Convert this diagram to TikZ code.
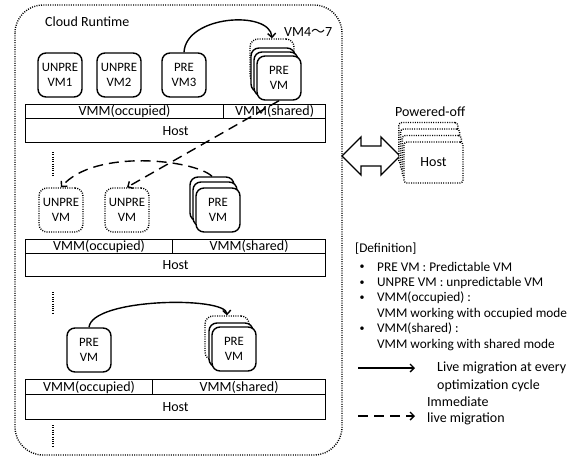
\documentclass[tikz,border=0pt]{standalone}
\usepackage{fontspec}
\setmainfont{Carlito}
\newfontfamily\cjk{Noto Sans CJK JP}
\usetikzlibrary{arrows.meta}

\tikzset{
  vm/.style={draw, line width=1.4pt, rounded corners=8pt, fill=white, minimum width=44pt, minimum height=44pt, inner sep=0pt, align=center, font=\fontsize{12.8}{15}\selectfont},
  dots/.style={line width=1.4pt, dash pattern=on 1pt off 1.3pt},
  vmghost/.style={vm, dots},
  bar/.style={draw, line width=1.2pt, inner sep=0pt, anchor=north west, font=\fontsize{14}{16}\selectfont},
  pwr/.style={draw, dots, fill=white, minimum width=59pt, minimum height=41pt, rounded corners=3pt, inner sep=0pt, font=\fontsize{14}{16}\selectfont},
  mig/.style={line width=1.4pt, -{Straight Barb[length=4pt,width=8pt]}},
  imm/.style={mig, dash pattern=on 10pt off 6pt},
  txt/.style={anchor=west, inner sep=0pt, font=\fontsize{14}{16}\selectfont},
  deftxt/.style={anchor=west, inner sep=0pt, font=\fontsize{13.3}{16}\selectfont},
  bul/.style={inner sep=0pt, font=\fontsize{10}{12}\selectfont},
}

\begin{document}
\begin{tikzpicture}[x=1pt,y=-1pt]
\useasboundingbox (0,0) rectangle (574,464);

% Cloud runtime frame
\draw[dots, rounded corners=28pt] (15,5) rectangle (342,455);
\node[txt] (cloud) at (45,22) {Cloud Runtime};

%%%%%%%%%%%% First host %%%%%%%%%%%%%%%%%%%
\node[vm] (vm1) at (60,75) {UNPRE\\VM1};
\node[vm] (vm2) at (119,75) {UNPRE\\VM2};
\node[vm] (vm3) at (184,75) {PRE\\VM3};

% VM4~7 stack
\node[vmghost] (ghost1) at (272,61) {};
\node[vm] (s1c) at (273,70) {};
\node[vm] (s1b) at (276,74) {};
\node[vm] (s1a) at (279,78) {PRE\\VM};
\node[txt] (vmlabel) at (284,32) {VM4{\cjk 〜}7};

\node[bar, minimum width=198pt, minimum height=14pt] (vo1) at (25,104) {VMM(occupied)};
\node[bar, minimum width=102pt, minimum height=14pt] (vs1) at (223,104) {VMM(shared)};
\node[bar, minimum width=300pt, minimum height=24pt] (h1) at (25,118) {Host};

\draw[mig] (vm3.north) .. controls (186,15) and (270,10) .. (ghost1.north);

\draw[dots] (53,152) -- (53,176);

%%%%%%%%%%%% Second host %%%%%%%%%%%%%%%%%%%
\node[vmghost] (u1) at (61,210) {UNPRE\\VM};
\node[vmghost] (u2) at (127,210) {UNPRE\\VM};

\node[vm] (s2c) at (212,199) {};
\node[vm] (s2b) at (215,204) {};
\node[vm] (s2a) at (218,210) {PRE\\VM};

\node[bar, minimum width=147pt, minimum height=14pt] (vo2) at (25,239) {VMM(occupied)};
\node[bar, minimum width=153pt, minimum height=14pt] (vs2) at (172,239) {VMM(shared)};
\node[bar, minimum width=300pt, minimum height=23pt] (h2) at (25,253) {Host};

\draw[imm] (s1a.south) -- (u2.north);
\draw[imm] (s2c.north) .. controls (195,160) and (95,148) .. (u1.north);

\draw[dots] (53,292) -- (53,313);

%%%%%%%%%%%% Third host %%%%%%%%%%%%%%%%%%%
\node[vm] (p1) at (89,350) {PRE\\VM};

\node[vmghost] (ghost3) at (227,338) {};
\node[vm] (s3b) at (231,345) {};
\node[vm] (s3a) at (234,349) {PRE\\VM};

\node[bar, minimum width=127pt, minimum height=15pt] (vo3) at (25,379) {VMM(occupied)};
\node[bar, minimum width=173pt, minimum height=15pt] (vs3) at (152,379) {VMM(shared)};
\node[bar, minimum width=300pt, minimum height=25pt] (h3) at (25,394) {Host};

\draw[mig] (p1.north) .. controls (92,298) and (226,296) .. (ghost3.north);

\draw[dots] (53,425) -- (53,447);

%%%%%%%%%%%% Powered-off hosts %%%%%%%%%%%%%%%%%%%
\draw[line width=1.3pt, line join=miter] (342,156) -- (361,137) -- (361,146) -- (381,146) -- (381,137) -- (400,156) -- (381,175) -- (381,166) -- (361,166) -- (361,175) -- cycle;

\node[txt] (offlabel) at (395,112) {Powered-off};
\node[pwr] (off3) at (428.4,143) {};
\node[pwr] (off2) at (430.1,149.5) {};
\node[pwr] (off1) at (431.8,156) {};
\node[pwr] (off) at (433.5,162.5) {Host};

%%%%%%%%%%%% Definition %%%%%%%%%%%%%%%%%%%
\node[deftxt] (def) at (355,249) {[Definition]};
\node[bul] (b1) at (362,267) {\textbullet};
\node[deftxt] (d1) at (377,267) {PRE VM : Predictable VM};
\node[bul] (b2) at (362,283) {\textbullet};
\node[deftxt] (d2) at (377,283) {UNPRE VM : unpredictable VM};
\node[bul] (b3) at (362,298) {\textbullet};
\node[deftxt] (d3) at (377,298) {VMM(occupied) :};
\node[deftxt] (d4) at (377,314) {VMM working with occupied mode};
\node[bul] (b4) at (362,329) {\textbullet};
\node[deftxt] (d5) at (377,329) {VMM(shared) :};
\node[deftxt] (d6) at (377,345) {VMM working with shared mode};

%%%%%%%%%%%% Legend %%%%%%%%%%%%%%%%%%%
\coordinate (l1a) at (358,368);
\coordinate (l1b) at (415,368);
\draw[mig] (l1a) -- (l1b);
\node[txt, align=left, font=\fontsize{14}{18}\selectfont] (l1) at (437,377) {Live migration at every\\optimization cycle};

\coordinate (l2a) at (358,416);
\coordinate (l2b) at (415,416);
\draw[imm] (l2a) -- (l2b);
\node[txt, align=left, font=\fontsize{14}{16}\selectfont] (l2) at (427,411) {Immediate\\live migration};

\end{tikzpicture}
\end{document}
